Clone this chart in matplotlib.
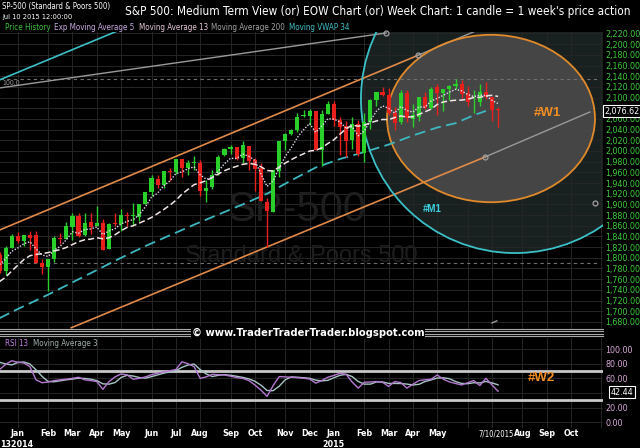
import numpy as np
import pandas as pd
import matplotlib
matplotlib.use("Agg")
import matplotlib.pyplot as plt
from matplotlib.patches import Ellipse
from matplotlib.lines import Line2D
from matplotlib import font_manager

# --- data: weekly candles (friday), first candle = week of 2013-12-13 ---
week_start = "2013-12-13"
opens = [1806, 1776, 1819, 1841, 1832, 1843, 1842, 1791, 1782, 1798, 1838, 1836, 1857, 1878, 1842, 1867,
         1859, 1865, 1816, 1865, 1863, 1880, 1878, 1877, 1901, 1923, 1948, 1937, 1963, 1960, 1985, 1969,
         1978, 1978, 1926, 1932, 1958, 1992, 2004, 2007, 1986, 2009, 1983, 1968, 1905, 1886, 1963, 2018,
         2032, 2039, 2065, 2065, 2074, 2002, 2070, 2088, 2058, 2046, 2020, 2050, 1996, 2055, 2096, 2110,
         2105, 2072, 2055, 2108, 2060, 2064, 2102, 2081, 2119, 2108, 2116, 2122, 2125, 2108, 2093, 2092,
         2110, 2102, 2079]
highs = [1811, 1823, 1844, 1849, 1843, 1851, 1850, 1798, 1798, 1841, 1847, 1867, 1883, 1883, 1883, 1884,
         1897, 1873, 1865, 1884, 1891, 1885, 1902, 1901, 1924, 1955, 1955, 1963, 1968, 1985, 1985, 1983,
         1991, 1984, 1946, 1964, 1993, 2006, 2012, 2007, 2019, 2009, 1987, 1977, 1912, 1965, 2018, 2034,
         2041, 2071, 2076, 2079, 2075, 2077, 2094, 2094, 2064, 2057, 2064, 2058, 2072, 2097, 2111, 2119,
         2118, 2083, 2114, 2114, 2088, 2102, 2111, 2120, 2126, 2117, 2123, 2134, 2132, 2121, 2115, 2126,
         2130, 2102, 2083]
lows = [1772, 1767, 1819, 1827, 1823, 1815, 1790, 1770, 1738, 1792, 1825, 1836, 1834, 1839, 1840, 1845,
        1859, 1814, 1816, 1859, 1851, 1860, 1862, 1868, 1901, 1915, 1930, 1931, 1944, 1957, 1952, 1955,
        1965, 1916, 1904, 1929, 1955, 1990, 1995, 1984, 1978, 1964, 1926, 1906, 1821, 1886, 1951, 2002,
        2030, 2035, 2063, 2049, 2002, 1972, 2069, 2046, 1992, 1988, 2004, 1990, 1980, 2041, 2085, 2103,
        2067, 2039, 2050, 2055, 2045, 2057, 2079, 2079, 2067, 2075, 2096, 2117, 2099, 2085, 2072, 2084,
        2097, 2056, 2044]
closes = [1775, 1818, 1841, 1831, 1842, 1838, 1790, 1782, 1797, 1838, 1836, 1859, 1878, 1841, 1866, 1857,
          1865, 1815, 1864, 1863, 1881, 1878, 1878, 1900, 1924, 1950, 1936, 1963, 1961, 1985, 1968, 1978,
          1978, 1925, 1931, 1955, 1988, 2003, 2007, 1985, 2011, 1982, 1967, 1906, 1887, 1965, 2018, 2032,
          2039, 2064, 2068, 2075, 2002, 2070, 2088, 2058, 2044, 2019, 2051, 1995, 2055, 2096, 2110, 2104,
          2071, 2053, 2108, 2061, 2067, 2102, 2081, 2117, 2108, 2116, 2122, 2126, 2107, 2092, 2094, 2110,
          2102, 2077, 2076.62]
# closes of the 12 weeks before the first candle (for the 13 week average)
pre_closes = [1710, 1692, 1690, 1703, 1745, 1759, 1762, 1771, 1798, 1804, 1806, 1805]

# moving vwap 34 (at some weeks)
vwap_week = [0, 3, 8, 12, 16, 20, 24, 28, 32, 36, 40, 44, 48, 52, 56, 60, 64, 68, 72, 75, 78, 80]
vwap_val = [1687, 1704, 1731, 1754, 1777, 1800, 1822, 1842, 1862, 1881, 1900, 1920, 1945, 1969, 1985,
            1998, 2012, 2029, 2044, 2052, 2067, 2075]

# RSI 13 weekly
rsi = [72, 79, 84, 82, 81, 76, 58, 54, 55, 57, 58, 59, 60, 61.5, 58, 57, 55.6, 45, 55.6, 62, 66, 64.6,
       58.8, 60, 62, 65, 67, 69, 70.4, 72, 82.6, 80, 76, 60, 62, 65.5, 65, 64.6, 63, 61, 60, 57, 51, 44,
       35.4, 50, 62.4, 62, 61.5, 61, 60.1, 59.2, 53.4, 57, 61.5, 64, 66.9, 65.5, 55, 46.6, 54.7, 55, 55.6,
       54.7, 48.9, 55.6, 54.3, 46.6, 52, 57, 58, 58.8, 64.6, 58.8, 55.2, 53, 51, 54, 57, 50.2, 60.1, 51,
       42.44]
pre_rsi = [86, 88]

# drawn objects (week index, price)
grey_fan = ([0, 63.6], [2118, 2221])
cyan_fan = ([0, 20.5], [2133, 2230])
upper_chan = ([0, 68.8], [1852, 2179])
upper_ext = ([68.8, 79.0], [2179, 2228])
lower_chan = ([11.8, 79.9], [1669, 1989])
lower_ext = ([79.9, 97.1], [1989, 2073])
handles = ([63.6, 68.8, 79.9, 97.95], [2221, 2179, 1989, 1902.6])
hlines = [2134, 1790]
w1_ellipse = (80.84, 2060.8, 34.2, 313.5)
m1_circle = (84.78, 2097.3, 50.66, 576.8)

# fonts: look for a narrow face, else fall back to Liberation Sans a bit smaller
names = {f.name for f in font_manager.fontManager.ttflist}
SANS = 'Liberation Sans' if 'Liberation Sans' in names else 'DejaVu Sans'
NARROW, STRETCH, K = SANS, 'normal', 0.88
cands = []
for f in font_manager.fontManager.ttflist:
    nm = f.name.lower()
    st = str(f.stretch).lower()
    if 'narrow' in nm or 'condensed' in nm or st in ('condensed', 'semi-condensed', 'extra-condensed'):
        rank = 0 if 'liberation' in nm else (1 if 'dejavu sans' == nm else 2)
        cands.append((rank, f.name, f.stretch))
if cands:
    cands.sort()
    _, NARROW, STRETCH = cands[0]
    K = 1.0
NF = dict(family=NARROW, fontstretch=STRETCH)

GREEN = '#2ad02a'
RED = '#e8201c'
GRID = '#262626'

n = len(closes)
idx = np.arange(n)
dates = pd.date_range(week_start, periods=100, freq='W-FRI')
month_idx = [i for i in range(1, 100) if dates[i].month != dates[i - 1].month]

allc = pd.Series(pre_closes + closes)
ema5 = allc.ewm(span=5, adjust=False).mean().values[len(pre_closes):]
ma13 = allc.rolling(13).mean().values[len(pre_closes):]
rsi_ma3 = pd.Series(pre_rsi + rsi).rolling(3).mean().values[len(pre_rsi):]

W, H = 640, 448
fig = plt.figure(figsize=(6.4, 4.48), dpi=100, facecolor='black')
ax = fig.add_axes([0, 1 - 330 / H, 603 / W, 298 / H])
rx = fig.add_axes([0, 1 - 428 / H, 603 / W, 90 / H])

xlim = (0.08, 99.26)
for a in (ax, rx):
    a.set_facecolor('black')
    a.set_xlim(*xlim)
    for s in a.spines.values():
        s.set_visible(False)
    a.set_xticks(month_idx)
    a.grid(True, color=GRID, lw=0.7)
    a.set_axisbelow(True)
    a.yaxis.tick_right()
    a.tick_params(length=0)

# --- price panel ---
price_ticks = np.arange(1680, 2221, 20)
ax.set_ylim(1664.8, 2222.8)
ax.set_yticks(price_ticks)
# the 2,080 label sits under the last-price box
ax.set_yticklabels(['' if v == 2080 else f"{v:,.2f}" for v in price_ticks])
ax.tick_params(axis='y', colors='#3ccc3c', labelsize=6.4 * K, pad=1.5)
for t in ax.get_yticklabels():
    t.set_fontfamily(NARROW)
    t.set_fontstretch(STRETCH)
ax.tick_params(axis='x', labelbottom=False)

cx, cy, cw, ch = m1_circle
ax.add_patch(Ellipse((cx, cy), cw, ch, facecolor='#1e2626', edgecolor='none', alpha=0.85, zorder=0.5))
ax.add_patch(Ellipse((cx, cy), cw, ch, facecolor='none', edgecolor='#3cc0c8', lw=1.3, zorder=3))
ex, ey, ew, eh = w1_ellipse
ax.add_patch(Ellipse((ex, ey), ew, eh, facecolor='#4a4a4a', edgecolor='none', alpha=0.9, zorder=0.6))
ax.add_patch(Ellipse((ex, ey), ew, eh, facecolor='none', edgecolor='#e08a2a', lw=1.3, zorder=3))

ax.text(48.9, 1889, 'SP-500', color='#1e1e1e', fontsize=30, family=SANS, ha='center', va='center', zorder=0.7)
ax.text(49.6, 1803, 'Standard & Poors 500', color='#1e1e1e', fontsize=17, family=SANS,
        ha='center', va='center', zorder=0.7)

for h in hlines:
    ax.axhline(h, xmax=0.995, color='#707070', lw=0.8, ls=(0, (3, 3)), zorder=1)

ax.plot(*grey_fan, color='#9a9a9a', lw=1, zorder=2)
ax.plot(*cyan_fan, color='#3cc0c8', lw=1.2, zorder=2)
ax.plot(*upper_chan, color='#e08a4a', lw=1.2, zorder=2)
ax.plot(*upper_ext, color='#9a9a9a', lw=1, zorder=2)
ax.plot(*lower_chan, color='#e08a4a', lw=1.2, zorder=2)
ax.plot(*lower_ext, color='#9a9a9a', lw=1, zorder=2)
ax.plot(*handles, ls='none', marker='o', ms=3.5, mfc='none', mec='#a0a0a0', mew=0.9, zorder=4, clip_on=False)
ax.plot([81.0, 81.8], [1678, 1682], color='#9a9a9a', lw=1)

ax.text(0.5, 2127, '100.0', color='#9a9a9a', fontsize=5, va='center', **NF)

# candles
o = np.array(opens, float)
c = np.array(closes, float)
up = c >= o
cols = np.where(up, GREEN, RED)
ax.vlines(idx, lows, highs, colors=cols, lw=1, zorder=5)
body = np.maximum(np.abs(c - o), 1.2)
ax.bar(idx, body, bottom=np.minimum(o, c), width=0.68, color=cols, zorder=6)

ax.plot(vwap_week, vwap_val, color='#3cb8c0', lw=1.3, ls=(0, (6, 3)), zorder=4)
ax.plot(idx, ma13, color='#f0e4e4', lw=1.1, ls=(0, (4, 2)), zorder=7)
ax.plot(idx, ema5, color='#e4d8f0', lw=1, ls=(0, (1, 1.2)), zorder=7)

ax.text(71.1, 1891, '#M1', color='#3cd0e0', fontsize=7, fontweight='bold', family=SANS, ha='center', va='center')
ax.text(90.05, 2071, '#W1', color='#f08c20', fontsize=9.5, fontweight='bold', family=SANS, ha='center', va='center')

# --- rsi panel ---
rsi_ticks = np.arange(0, 101, 20)
rx.set_ylim(-7.8, 115.1)
rx.set_yticks(rsi_ticks)
rx.set_yticklabels(['' if v == 40 else f"{v:.2f}" for v in rsi_ticks])
rx.tick_params(axis='y', colors='#d8a8d8', labelsize=6.4 * K, pad=1.5)
for t in rx.get_yticklabels():
    t.set_fontfamily(NARROW)
    t.set_fontstretch(STRETCH)
rx.axhline(70, color='#c8c8c8', lw=2)
rx.axhline(30, color='#c8c8c8', lw=2)
rx.plot(idx, rsi_ma3, color='#a8c4c4', lw=1)
rx.plot(idx, rsi, color='#b478d0', lw=1)
rx.text(89.1, 60.7, '#W2', color='#f08c20', fontsize=9.5, fontweight='bold', family=SANS, ha='center', va='center')

# month names; Jun/Jul 2015 give way to the date label, Nov 2015 falls off the edge
labels = []
for i in month_idx:
    d = dates[i]
    hide = (d.year == 2015 and d.month in (6, 7)) or i > 96
    labels.append('' if hide else d.strftime('%b'))
rx.set_xticklabels(labels)
rx.tick_params(axis='x', colors='white', labelsize=6.4 * K, pad=1)
for t in rx.get_xticklabels():
    t.set_fontfamily(NARROW)
    t.set_fontstretch(STRETCH)
    t.set_fontweight('bold')
rx.text(n - 1.3, -10.5, '7/10/2015', color='white', fontsize=5.5 * K, ha='center', va='top', clip_on=False, **NF)
rx.text(0.08, -30.5, '132014', color='white', fontsize=6.4 * K, fontweight='bold', va='center', **NF)
rx.text(month_idx[12], -30.5, '2015', color='white', fontsize=6.4 * K, fontweight='bold',
        ha='center', va='center', **NF)

# value boxes
box = dict(boxstyle='square,pad=0.15', fc='black', ec='white', lw=0.8)
fig.text(622 / W, 1 - 111 / H, '2,076.62', color='white', fontsize=6.4 * K, ha='center', va='center', bbox=box, **NF)
fig.text(622 / W, 1 - 392 / H, '42.44', color='white', fontsize=6.4 * K, ha='center', va='center', bbox=box, **NF)

# separator band
for yy in (329, 331, 333.5, 336):
    fig.add_artist(Line2D([0, 603 / W], [1 - yy / H] * 2, color='#a8a8a8', lw=0.8))
fig.text(308 / W, 1 - 332.5 / H, '\u00a9 www.TraderTraderTrader.blogspot.com', color='white', fontsize=8 * K,
         fontweight='bold', ha='center', va='center',
         bbox=dict(boxstyle='square,pad=0.1', fc='black', ec='none'), **NF)

# header
fig.text(125 / W, 1 - 11 / H, "S&P 500: Medium Term View (or) EOW Chart (or) Week Chart: 1 candle = 1 week's price action",
         color='white', fontsize=8.5 * K, va='center', **NF)
fig.text(2 / W, 1 - 7 / H, 'SP-500 (Standard & Poors 500)', color='white', fontsize=5.6 * K, va='center', **NF)
fig.text(2 / W, 1 - 17 / H, 'Jul 10 2015 12:00:00', color='white', fontsize=5.3 * K, va='center', **NF)
legend = [('Price History', '#3cc03c', 5), ('Exp Moving Average 5', '#c8a8e0', 54),
          ('Moving Average 13', '#e8c8d8', 139), ('Moving Average 200', '#a0a0a0', 211),
          ('Moving VWAP 34', '#40c0c8', 289)]
for txt, col, xp in legend:
    fig.text(xp / W, 1 - 27 / H, txt, color=col, fontsize=5.8 * K, va='center', **NF)
fig.text(5 / W, 1 - 343 / H, 'RSI 13', color='#c080e0', fontsize=5.8 * K, va='center', **NF)
fig.text(33 / W, 1 - 343 / H, 'Moving Average 3', color='#a0b0b0', fontsize=5.8 * K, va='center', **NF)

fig.savefig('out.png', dpi=100, facecolor='black')
